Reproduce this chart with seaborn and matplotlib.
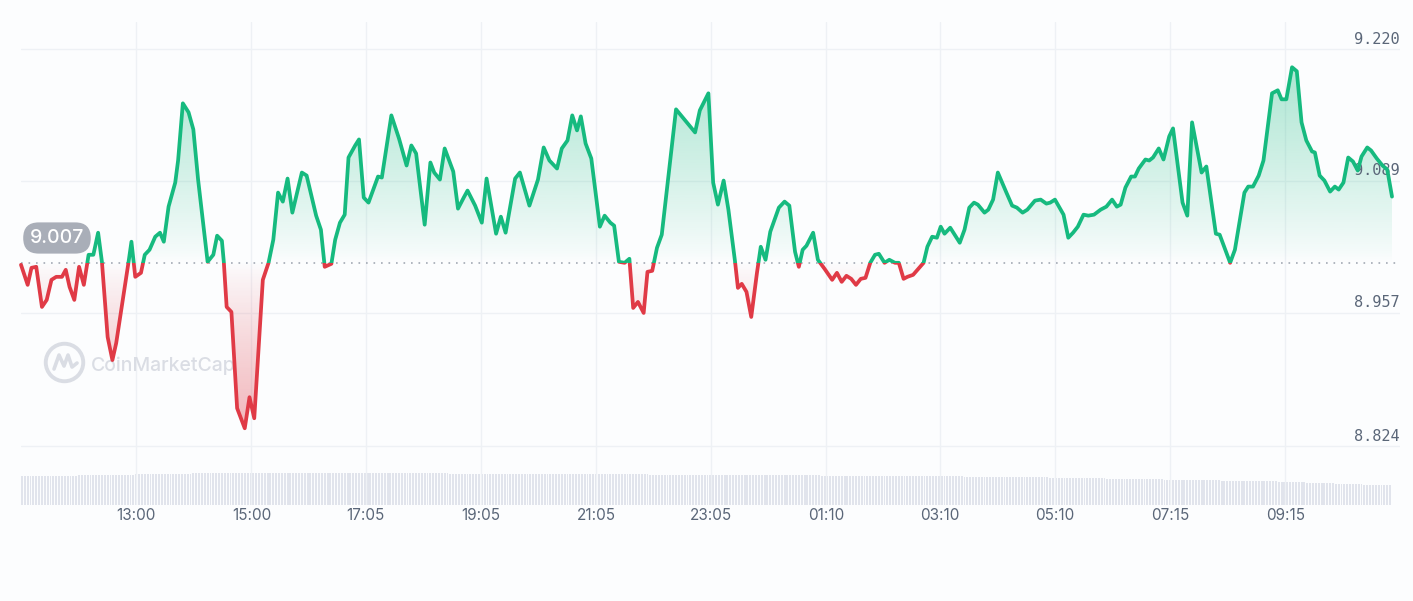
import numpy as np
import matplotlib
matplotlib.use("Agg")
import matplotlib.pyplot as plt
import matplotlib.colors as mcolors
import seaborn as sns
from matplotlib.patches import Rectangle
from matplotlib.path import Path

# price trace, minutes from start of the 24h window
minutes = [0, 7, 11, 16, 22, 27, 32, 37, 43, 47, 51, 56, 61, 66, 71, 76, 81, 85, 91, 96,
           100, 113, 116, 120, 126, 130, 135, 141, 146, 150, 155, 162, 165, 170, 176, 181, 186, 196, 202, 206,
           211, 213, 216, 221, 227, 235, 240, 245, 254, 260, 265, 270, 275, 280, 285, 295, 300, 310, 315, 319,
           326, 330, 335, 340, 344, 351, 355, 360, 365, 375, 379, 389, 397, 405, 410, 415, 424, 430, 434, 440,
           445, 454, 459, 465, 469, 477, 484, 489, 499, 504, 509, 519, 524, 534, 543, 549, 555, 563, 568, 574,
           579, 584, 588, 593, 599, 608, 613, 619, 623, 628, 634, 639, 643, 648, 654, 658, 663, 668, 673, 680,
           688, 708, 713, 722, 727, 732, 738, 743, 750, 753, 757, 762, 767, 773, 777, 782, 787, 796, 802, 807,
           813, 817, 821, 825, 832, 837, 844, 852, 857, 862, 867, 872, 877, 882, 887, 892, 897, 901, 907, 912,
           918, 922, 927, 931, 937, 948, 952, 957, 962, 966, 970, 976, 986, 991, 996, 1001, 1005, 1012, 1016, 1021,
           1026, 1030, 1035, 1041, 1046, 1052, 1057, 1065, 1071, 1077, 1081, 1086, 1095, 1100, 1105, 1110, 1116, 1121, 1127, 1134,
           1140, 1146, 1151, 1155, 1160, 1166, 1170, 1174, 1181, 1185, 1189, 1195, 1200, 1206, 1210, 1220, 1225, 1230, 1236, 1240,
           1245, 1255, 1259, 1270, 1275, 1285, 1289, 1294, 1300, 1305, 1314, 1320, 1324, 1329, 1335, 1340, 1345, 1350, 1356, 1359,
           1364, 1369, 1375, 1380, 1384, 1389, 1394, 1399, 1404, 1408, 1414, 1418, 1424, 1430, 1435, 1440]
prices = [9.005, 8.985, 9.002, 9.003, 8.963, 8.970, 8.990, 8.993, 8.993, 9.000,
          8.983, 8.970, 9.003, 8.985, 9.015, 9.015, 9.037, 9.008, 8.933, 8.910,
          8.927, 9.008, 9.028, 8.993, 8.997, 9.015, 9.020, 9.033, 9.037, 9.028,
          9.063, 9.087, 9.109, 9.166, 9.157, 9.140, 9.090, 9.008, 9.015, 9.034,
          9.029, 9.008, 8.963, 8.958, 8.862, 8.842, 8.873, 8.852, 8.990, 9.007,
          9.030, 9.077, 9.068, 9.091, 9.057, 9.097, 9.094, 9.054, 9.040, 9.003,
          9.006, 9.030, 9.047, 9.055, 9.112, 9.124, 9.130, 9.072, 9.067, 9.093,
          9.092, 9.154, 9.131, 9.104, 9.124, 9.116, 9.045, 9.107, 9.097, 9.090,
          9.121, 9.098, 9.061, 9.072, 9.079, 9.064, 9.047, 9.091, 9.036, 9.053,
          9.037, 9.091, 9.097, 9.064, 9.090, 9.122, 9.109, 9.101, 9.121, 9.129,
          9.154, 9.139, 9.153, 9.126, 9.111, 9.043, 9.054, 9.047, 9.044, 9.008,
          9.007, 9.011, 8.962, 8.968, 8.957, 8.998, 8.999, 9.022, 9.035, 9.093,
          9.160, 9.137, 9.159, 9.176, 9.087, 9.065, 9.089, 9.060, 9.008, 8.982,
          8.986, 8.978, 8.953, 8.997, 9.023, 9.010, 9.038, 9.062, 9.068, 9.064,
          9.018, 9.003, 9.020, 9.024, 9.037, 9.010, 9.001, 8.990, 8.997, 8.988,
          8.994, 8.991, 8.985, 8.991, 8.992, 9.007, 9.015, 9.016, 9.007, 9.010,
          9.007, 9.007, 8.991, 8.993, 8.995, 9.007, 9.023, 9.033, 9.032, 9.043,
          9.036, 9.042, 9.027, 9.040, 9.062, 9.067, 9.065, 9.057, 9.060, 9.070,
          9.097, 9.088, 9.077, 9.064, 9.062, 9.057, 9.060, 9.069, 9.070, 9.066,
          9.067, 9.070, 9.055, 9.032, 9.037, 9.043, 9.055, 9.054, 9.055, 9.060,
          9.063, 9.070, 9.063, 9.065, 9.082, 9.093, 9.093, 9.101, 9.110, 9.109,
          9.112, 9.121, 9.110, 9.133, 9.141, 9.067, 9.054, 9.147, 9.117, 9.097,
          9.103, 9.036, 9.035, 9.007, 9.020, 9.077, 9.083, 9.083, 9.094, 9.109,
          9.176, 9.179, 9.170, 9.170, 9.202, 9.198, 9.147, 9.129, 9.118, 9.117,
          9.094, 9.089, 9.078, 9.083, 9.080, 9.087, 9.112, 9.108, 9.099, 9.113,
          9.122, 9.119, 9.111, 9.104, 9.100, 9.073]
open_price = 9.007

# volume, read per half hour (bars are 3-minute buckets)
volume_halfhour = [29, 29.5, 30, 30.5, 31, 31.5, 32, 32,
                   32, 32, 32, 32, 32, 32, 32, 31.5,
                   31.5, 31.5, 31, 31, 31, 31, 30.5, 30.5,
                   30.5, 30, 30, 30, 29.5, 29.5, 29, 29,
                   29, 28.5, 28.5, 28, 27.5, 27, 26.5, 26,
                   25.5, 25, 24.5, 24, 23, 22, 21, 20]

ytick_vals = [8.824, 8.957, 9.089, 9.220]
ytick_labels = ["8.824", "8.957", "9.089", "9.220"]
xtick_pos = [121, 242, 362, 483, 604, 725, 846, 965, 1086, 1207, 1328]
xtick_labels = ["13:00", "15:00", "17:05", "19:05", "21:05", "23:05",
                "01:10", "03:10", "05:10", "07:15", "09:15"]

GREEN = "#16ba7f"
RED = "#e03a46"
GRID = "#eef1f5"
LABEL = "#5a6678"
BG = "#fcfdfe"

sns.set_style("white")
plt.rcParams["font.family"] = ["Inter", "DejaVu Sans"]

fig = plt.figure(figsize=(14.13, 6.01), dpi=100, facecolor=BG)
W, H = 1413, 601
ax = fig.add_axes([21 / W, (H - 505) / H, 1379 / W, 483 / H])
ax.set_facecolor("none")

t = np.array(minutes, dtype=float)
p = np.array(prices)


def gradient_fill(ax, t, p, base, color, far, alpha_far, above):
    where = p >= base if above else p <= base
    coll = ax.fill_between(t, p, base, where=where, interpolate=True, color="none", lw=0)
    clip = Path.make_compound_path(*coll.get_paths())
    coll.remove()
    img = np.zeros((256, 1, 4))
    img[..., :3] = mcolors.to_rgb(color)
    img[:, 0, 3] = np.linspace(0, 1, 256) ** 0.85 * alpha_far
    if above:
        lo, hi = base, far
    else:
        lo, hi = far, base
        img = img[::-1]
    im = ax.imshow(img, extent=[t.min(), t.max(), lo, hi], origin="lower",
                   aspect="auto", interpolation="bilinear", zorder=1)
    im.set_clip_path(clip, ax.transData)


gradient_fill(ax, t, p, open_price, GREEN, p.max(), 0.34, True)
gradient_fill(ax, t, p, open_price, RED, p.min(), 0.36, False)

# line split in colour at the open price
sns.lineplot(x=t, y=p, ax=ax, color=GREEN, linewidth=2.7, zorder=4)
ln_up = ax.lines[-1]
sns.lineplot(x=t, y=p, ax=ax, color=RED, linewidth=2.7, zorder=4)
ln_dn = ax.lines[-1]
for ln in (ln_up, ln_dn):
    ln.set_solid_joinstyle("round")
    ln.set_solid_capstyle("round")
ln_up.set_clip_path(Rectangle((-100, open_price), 2000, 5, transform=ax.transData))
ln_dn.set_clip_path(Rectangle((-100, open_price - 5), 2000, 5, transform=ax.transData))

ax.axhline(open_price, color="#a3a9b4", lw=1.2, ls=(0, (1, 3.5)), zorder=3)

ax.set_xlim(0, 1448.4)
ax.set_ylim(8.7655, 9.2471)
ax.set_xticks(xtick_pos)
ax.set_xticklabels(xtick_labels)
ax.set_yticks(ytick_vals)
ax.set_yticklabels([])
ax.grid(True, color=GRID, lw=1.0, zorder=0)
ax.set_axisbelow(True)
ax.tick_params(axis="both", length=0)
ax.tick_params(axis="x", pad=2, labelsize=11, labelcolor=LABEL)
for s in ax.spines.values():
    s.set_visible(False)

for v, lbl in zip(ytick_vals, ytick_labels):
    ax.annotate(lbl, xy=(1.0, v), xycoords=("axes fraction", "data"),
                xytext=(0, 4), textcoords="offset points", ha="right", va="baseline",
                fontsize=11, color=LABEL, family="DejaVu Sans Mono", zorder=2)

# volume strip along the bottom
vax = ax.twinx()
vol = np.repeat(volume_halfhour, 10)
bar_t = np.arange(len(vol)) * 3.0
vax.bar(bar_t, vol, width=2.0, align="edge", color="#e1e4ec", lw=0)
vax.set_ylim(0, max(volume_halfhour) * 15.1)
vax.set_yticks([])
vax.set_zorder(0)
ax.set_zorder(1)
for s in vax.spines.values():
    s.set_visible(False)

# watermark (sits under the price line)
wm = "#dadde4"
cx, cy = 0.0312, 0.296
ax.plot([cx], [cy], marker="o", ms=27, mfc="none", mec=wm, mew=2.8,
        transform=ax.transAxes, zorder=2)
dx, dy = 1 / 1379, 1 / 483
wave_x = [cx - 10 * dx, cx - 5 * dx, cx, cx + 4 * dx, cx + 8 * dx, cx + 13 * dx]
wave_y = [cy - 7 * dy, cy + 7 * dy, cy - 4 * dy, cy + 7 * dy, cy - 5 * dy, cy - 1 * dy]
ax.plot(wave_x, wave_y, color=wm, lw=2.6, transform=ax.transAxes, zorder=2,
        solid_joinstyle="round", solid_capstyle="round")
ax.text(91 / W, 1 - 366 / H, "CoinMarketCap", ha="left", va="center",
        fontsize=14, color=wm, fontweight="medium", transform=fig.transFigure, zorder=2)

# open price tag
fig.text(57 / W, 1 - 238 / H, "9.007", ha="center", va="center", color="white",
         fontsize=14, fontweight="medium",
         bbox=dict(boxstyle="round,pad=0.34,rounding_size=0.8", fc="#a9aeb8", ec="none"))

fig.savefig("out.png", dpi=100, facecolor=BG)
